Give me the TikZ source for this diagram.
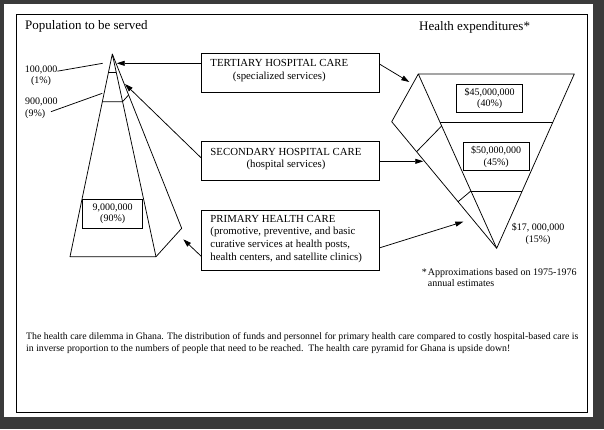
\documentclass[tikz,border=0pt]{standalone}
\usepackage{fontspec}
\setmainfont{Liberation Serif}
\usetikzlibrary{arrows.meta,positioning,calc}
\definecolor{scan}{HTML}{3A3A3A}
\tikzset{outline/.style={line width=0.75pt,line join=round},
  box/.style={draw,line width=0.75pt,inner sep=0pt},
  boxtext/.style={inner sep=0pt,font=\fontsize{10.8}{12.6}\selectfont},
  num/.style={inner sep=0pt,align=center,font=\fontsize{10}{11.5}\selectfont},
  title/.style={inner sep=0pt,font=\fontsize{13}{15}\selectfont},
  flow/.style={-{Triangle[length=8pt,width=5pt]},line width=0.75pt}}

\begin{document}
\begin{tikzpicture}[x=1pt,y=-1pt]
\useasboundingbox (0,0) rectangle (604,429);
\fill[scan] (0,0) rectangle (604,429);
\fill[white] (4,4) rectangle (593,417);
\draw[line width=0.8pt] (16,14) rectangle (587,412);
% titles
\node[title,anchor=base west] (poptitle) at (25,29.5) {Population to be served};
\node[title,anchor=base west] (exptitle) at (419,30) {Health expenditures*};
% population pyramid
\coordinate (apex) at (112.3,54);
\coordinate (bl) at (70,256.7);
\coordinate (br) at (156,256.7);
\coordinate (bs) at (181.7,228.3);
\draw[outline] (bl) -- (apex) -- (br) -- cycle;
\draw[outline] (apex) -- (bs) -- (br);
\draw[outline] ($(apex)!0.09!(bl)$) -- ($(apex)!0.09!(br)$);
\draw[outline] ($(apex)!0.235!(bl)$) -- ($(apex)!0.235!(br)$) -- ($(apex)!0.235!(bs)$);
\node[box,num,minimum width=60pt,minimum height=29pt] (pop90) at (112.7,213.8) {9,000,000\\(90\%)};
\node[num] (lab100) at (41,75.5) {100,000\\(1\%)};
\node[num,align=left,anchor=west] (lab900) at (25,108.2) {900,000\\(9\%)};
\coordinate (l100) at (102.7,63.3);
\coordinate (l900) at (102.3,93.3);
\draw[outline] ([yshift=-6pt]lab100.north east) -- (l100);
\draw[outline] ([xshift=-7pt,yshift=-3.5pt]lab900.east) -- (l900);
% expenditure pyramid (upside down)
\coordinate (tl) at (418.3,74);
\coordinate (tr) at (574.3,74);
\coordinate (tip) at (496.7,248.3);
\coordinate (sl) at (391.7,121.7);
\draw[outline] (tl) -- (tr) -- (tip) -- cycle;
\draw[outline] (tl) -- (sl) -- (tip);
\draw[outline] ($(tl)!0.279!(tip)$) -- ($(tr)!0.279!(tip)$);
\draw[outline] ($(tl)!0.298!(tip)$) -- ($(sl)!0.237!(tip)$);
\draw[outline] ($(tl)!0.671!(tip)$) -- ($(tr)!0.671!(tip)$);
\draw[outline] ($(tl)!0.671!(tip)$) -- ($(sl)!0.632!(tip)$);
\node[box,num,minimum width=66pt,minimum height=28.7pt] (exp40) at (489.7,98.3) {\$45,000,000\\(40\%)};
\node[box,num,minimum width=65.7pt,minimum height=28pt] (exp45) at (496.2,156.7) {\$50,000,000\\(45\%)};
\node[num] (exp15) at (538,233.8) {\$17, 000,000\\(15\%)};
\node[num,align=left,anchor=west] (note) at (421.7,277.5) {\makebox[6pt][l]{*}Approximations based on 1975-1976\\\hspace*{6pt}annual estimates};
% levels of care
\node[box,minimum width=177.3pt,minimum height=39pt] (tert) at (290.3,72.8) {};
\node[boxtext,align=center,anchor=west] (terttext) at ([xshift=9pt,yshift=2pt]tert.west) {TERTIARY HOSPITAL CARE\\(specialized services)};
\node[box,minimum width=177.3pt,minimum height=38.3pt] (sec) at (290.3,160.9) {};
\node[boxtext,align=center,anchor=west] (sectext) at ([xshift=9pt,yshift=2pt]sec.west) {SECONDARY HOSPITAL CARE\\(hospital services)};
\node[box,minimum width=177.3pt,minimum height=60pt] (prim) at (290.3,240) {};
\node[boxtext,align=left,anchor=west] (primtext) at ([xshift=9pt,yshift=1.3pt]prim.west) {PRIMARY HEALTH CARE\\(promotive, preventive, and basic\\curative services at health posts,\\health centers, and satellite clinics)};
% arrows
\coordinate (atop) at (116.7,63.3);
\coordinate (amid) at (125,84);
\coordinate (abase) at (183.3,239.3);
\coordinate (btop) at (409.3,82);
\coordinate (bmid) at (423.3,161.3);
\coordinate (bbase) at (463.3,221.7);
\draw[flow] (tert.west |- atop) -- (atop);
\draw[flow] ([yshift=-16.6pt]sec.north west) -- (amid);
\draw[flow] ([yshift=-46.7pt]prim.north west) -- (abase);
\draw[flow] ([yshift=-11pt]tert.north east) -- (btop);
\draw[flow] (sec.east |- bmid) -- (bmid);
\draw[flow] ([yshift=-38.3pt]prim.north east) -- (bbase);
% caption
\node[inner sep=0pt,align=left,anchor=west,font=\fontsize{9.8}{12.6}\selectfont] (caption) at (26,343) {The health care dilemma in Ghana. The distribution of funds and personnel for primary health care compared to costly hospital-based care is\\in inverse proportion to the numbers of people that need to be reached.\ \ The health care pyramid for Ghana is upside down!};
\end{tikzpicture}
\end{document}
